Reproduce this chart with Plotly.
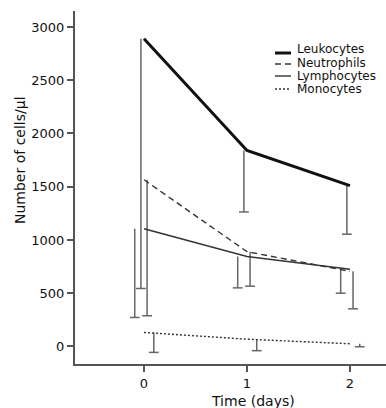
import plotly.graph_objects as go

# ---- data ----
days = [0, 1, 2]
series_names = ["Leukocytes", "Neutrophils", "Lymphocytes", "Monocytes"]
leukocytes = [2890, 1840, 1510]
neutrophils = [1565, 890, 705]
lymphocytes = [1105, 845, 725]
monocytes = [131, 68, 25]
# lower error (downward only)
leukocytes_err = [2346, 577, 456]
neutrophils_err = [1277, 324, 352]
lymphocytes_err = [833, 295, 225]
monocytes_err = [187, 108, 28]
y_ticks = [0, 500, 1000, 1500, 2000, 2500, 3000]
x_ticks = [0, 1, 2]

values = dict(zip(series_names, [leukocytes, neutrophils, lymphocytes, monocytes]))
errors = dict(zip(series_names, [leukocytes_err, neutrophils_err, lymphocytes_err, monocytes_err]))

# ---- styles ----
styles = {
    "Leukocytes": dict(color="#111111", width=3, dash="solid"),
    "Neutrophils": dict(color="#333333", width=1.4, dash="6px,4px"),
    "Lymphocytes": dict(color="#333333", width=1.4, dash="solid"),
    "Monocytes": dict(color="#333333", width=1.4, dash="2px,2px"),
}
bar_offset = {"Leukocytes": -0.03, "Neutrophils": 0.03, "Lymphocytes": -0.09, "Monocytes": 0.095}
err_color = "#666666"
FONT = "DejaVu Sans"

fig = go.Figure()

# error bars (downward stems + bottom caps)
for name in series_names:
    xs, ys, cx, cy = [], [], [], []
    for d, v, e in zip(days, values[name], errors[name]):
        x = d + bar_offset[name]
        xs += [x, x, None]
        ys += [v, v - e, None]
        cx.append(x)
        cy.append(v - e)
    fig.add_trace(go.Scatter(x=xs, y=ys, mode="lines", line=dict(color=err_color, width=1.5),
                             showlegend=False, hoverinfo="skip"))
    fig.add_trace(go.Scatter(x=cx, y=cy, mode="markers",
                             marker=dict(symbol="line-ew", size=7, line=dict(color=err_color, width=1.5)),
                             showlegend=False, hoverinfo="skip"))

# mean lines
for name in series_names:
    fig.add_trace(go.Scatter(x=days, y=values[name], mode="lines", name=name,
                             line=styles[name], showlegend=False))

# ---- layout geometry (pixels) ----
W, H = 386, 408
L, T, B, R = 75, 11, 44, 0
pw, ph = W - L - R, H - T - B

def px_x(px):
    return (px - L) / pw

def px_y(py):
    return (H - B - py) / ph

# manual legend
leg_rows = [53, 64, 76, 89]
txt_rows = [49, 63, 76, 89]
for name, ly, ty in zip(series_names, leg_rows, txt_rows):
    st = styles[name]
    fig.add_shape(type="line", xref="paper", yref="paper",
                  x0=px_x(275), x1=px_x(291), y0=px_y(ly), y1=px_y(ly),
                  line=dict(color=st["color"], width=st["width"], dash=st["dash"]))
    fig.add_annotation(xref="paper", yref="paper", x=px_x(295), y=px_y(ty),
                       text=name, showarrow=False, xanchor="left", yanchor="middle",
                       font=dict(family=FONT, size=12, color="#111111"))

# axis titles
fig.add_annotation(xref="paper", yref="paper", x=px_x(20), y=px_y(160),
                   text="Number of cells/µl", textangle=-90, showarrow=False,
                   xanchor="center", yanchor="middle",
                   font=dict(family=FONT, size=14, color="#111111"))
fig.add_annotation(xref="paper", yref="paper", x=px_x(253), y=px_y(401),
                   text="Time (days)", showarrow=False,
                   xanchor="center", yanchor="middle",
                   font=dict(family=FONT, size=14, color="#111111"))

axis_common = dict(showgrid=False, zeroline=False, showline=True, linecolor="#555555",
                   linewidth=2, ticks="outside", ticklen=6, tickwidth=1.5, tickcolor="#555555",
                   tickfont=dict(family=FONT, size=13, color="#111111"))

fig.update_layout(
    width=W, height=H,
    margin=dict(l=L, r=R, t=T, b=B),
    paper_bgcolor="white", plot_bgcolor="white",
    showlegend=False,
    xaxis=dict(range=[-0.67, 2.35], tickvals=x_ticks, **axis_common),
    yaxis=dict(range=[-165, 3150], tickvals=y_ticks, **axis_common),
)

fig.write_html("out.html")
